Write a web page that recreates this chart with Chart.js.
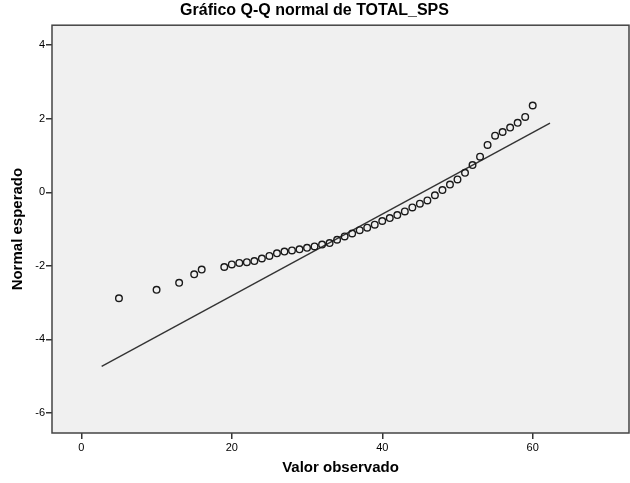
<!DOCTYPE html>
<html>
<head>
<meta charset="utf-8">
<script src="https://cdn.jsdelivr.net/npm/chart.js@4"></script>
<style>
  html, body { margin: 0; padding: 0; background: #fff; }
  #wrap { width: 630px; height: 483px; }
</style>
</head>
<body>
<div id="wrap"><canvas id="qqChart" width="630" height="483"></canvas></div>
<script>
// observed values and their expected normal scores
const observed = [5, 10, 13, 15, 16, 19, 20, 21, 22, 23, 24, 25, 26, 27, 28, 29, 30, 31, 32, 33,
    34, 35, 36, 37, 38, 39, 40, 41, 42, 43, 44, 45, 46, 47, 48, 49, 50, 51, 52, 53,
    54, 55, 56, 57, 58, 59, 60];
const expected = [-2.88, -2.65, -2.46, -2.23, -2.10, -2.03, -1.96, -1.92, -1.90, -1.87,
    -1.80, -1.73, -1.66, -1.61, -1.58, -1.55, -1.51, -1.47, -1.42, -1.38,
    -1.29, -1.20, -1.12, -1.03, -0.96, -0.88, -0.78, -0.70, -0.62, -0.52,
    -0.41, -0.31, -0.22, -0.08, 0.06, 0.21, 0.35, 0.53, 0.74, 0.97,
    1.29, 1.54, 1.64, 1.76, 1.89, 2.05, 2.36];
// reference line end points
const lineX = [2.7, 62.3];
const lineY = [-4.73, 1.88];

const xTicks = [0, 20, 40, 60];
const yTicks = [4, 2, 0, -2, -4, -6];

const frame = {
    id: 'frame',
    beforeDraw(chart) {
        const { ctx, chartArea: a } = chart;
        ctx.save();
        ctx.fillStyle = '#f0f0f0';
        ctx.fillRect(a.left, a.top, a.right - a.left, a.bottom - a.top);
        ctx.restore();
    },
    afterDraw(chart) {
        const { ctx, chartArea: a } = chart;
        ctx.save();
        ctx.strokeStyle = '#444';
        ctx.lineWidth = 1.5;
        ctx.strokeRect(a.left, a.top, a.right - a.left, a.bottom - a.top);
        ctx.restore();
    }
};

const ctx = document.getElementById('qqChart');

new Chart(ctx, {
    type: 'scatter',
    data: {
        datasets: [{
            data: observed.map((x, i) => ({ x: x, y: expected[i] })),
            pointStyle: 'circle',
            pointRadius: 3.3,
            pointBorderWidth: 1.4,
            pointBorderColor: '#1a1a1a',
            pointBackgroundColor: 'rgba(0,0,0,0)',
            order: 1
        }, {
            type: 'line',
            data: lineX.map((x, i) => ({ x: x, y: lineY[i] })),
            borderColor: '#333',
            borderWidth: 1.4,
            pointRadius: 0,
            fill: false,
            order: 2
        }]
    },
    options: {
        responsive: false,
        animation: false,
        layout: { autoPadding: false, padding: { left: 0, right: 1, top: 0, bottom: 0 } },
        plugins: {
            legend: { display: false },
            tooltip: { enabled: false },
            title: {
                display: true,
                text: 'Gráfico Q-Q normal de TOTAL_SPS',
                color: '#000',
                font: { family: 'Liberation Sans, Arial, sans-serif', size: 16, weight: 'bold' },
                padding: { top: 1, bottom: 5 }
            }
        },
        scales: {
            x: {
                type: 'linear',
                min: -3.9,
                max: 72.8,
                afterFit: (s) => { s.height = 50; s.paddingLeft = 0; s.paddingRight = 0; },
                afterBuildTicks: (s) => { s.ticks = xTicks.map(v => ({ value: v })); },
                ticks: {
                    color: '#000',
                    padding: 2,
                    font: { family: 'Liberation Sans, Arial, sans-serif', size: 11 },
                    maxRotation: 0
                },
                grid: { display: true, drawOnChartArea: false, drawTicks: true, tickLength: 6, color: '#333', lineWidth: 1.5 },
                border: { display: false },
                title: {
                    display: true,
                    text: 'Valor observado',
                    color: '#000',
                    font: { family: 'Liberation Sans, Arial, sans-serif', size: 15, weight: 'bold' },
                    padding: 6
                }
            },
            y: {
                type: 'linear',
                min: -6.544,
                max: 4.544,
                afterFit: (s) => { s.width = 52; s.paddingTop = 0; s.paddingBottom = 0; },
                afterBuildTicks: (s) => { s.ticks = yTicks.map(v => ({ value: v })); },
                ticks: {
                    color: '#000',
                    padding: 1,
                    font: { family: 'Liberation Sans, Arial, sans-serif', size: 11 }
                },
                grid: { display: true, drawOnChartArea: false, drawTicks: true, tickLength: 6, color: '#333', lineWidth: 1.5 },
                border: { display: false },
                title: {
                    display: true,
                    text: 'Normal esperado',
                    color: '#000',
                    font: { family: 'Liberation Sans, Arial, sans-serif', size: 15, weight: 'bold' },
                    padding: 9
                }
            }
        }
    },
    plugins: [frame]
});
</script>
</body>
</html>
